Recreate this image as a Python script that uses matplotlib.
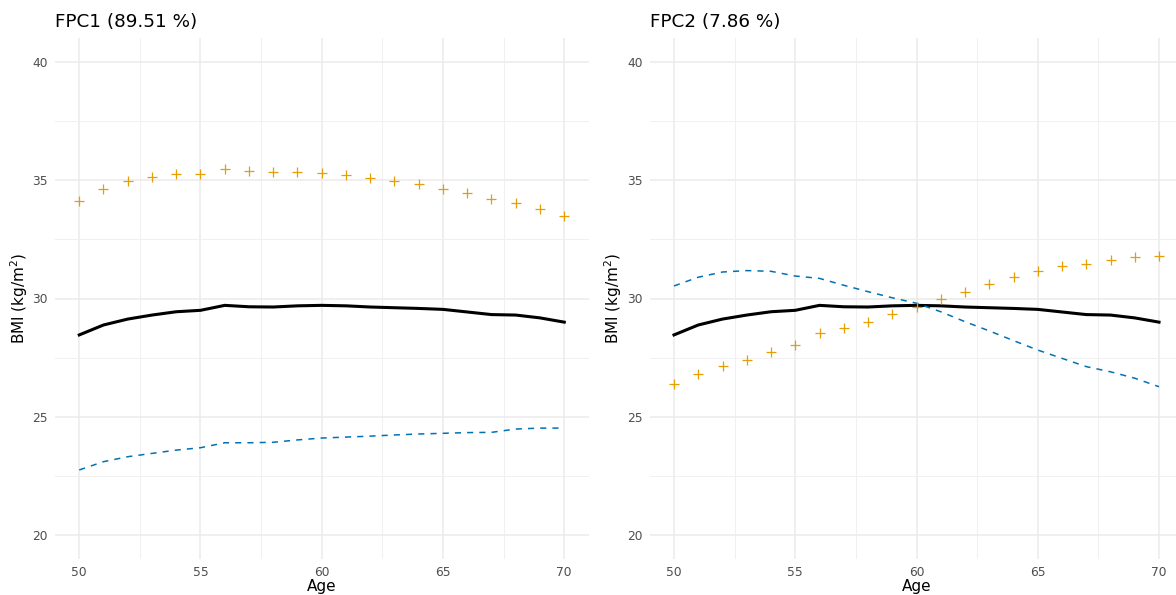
import matplotlib
matplotlib.use("Agg")
import matplotlib.pyplot as plt
from matplotlib.ticker import MultipleLocator

age = list(range(50, 71))
mean_curve = [28.46, 28.88, 29.13, 29.30, 29.44, 29.50, 29.71, 29.65, 29.64, 29.69, 29.71,
              29.69, 29.64, 29.61, 29.58, 29.54, 29.43, 29.32, 29.30, 29.18, 29.00]
fpc1_plus = [34.14, 34.64, 34.97, 35.14, 35.28, 35.28, 35.48, 35.41, 35.34, 35.34, 35.29,
             35.21, 35.08, 34.97, 34.83, 34.63, 34.45, 34.21, 34.05, 33.80, 33.50]
fpc1_minus = [22.75, 23.10, 23.31, 23.45, 23.59, 23.69, 23.90, 23.90, 23.92, 24.02, 24.10,
              24.14, 24.18, 24.23, 24.27, 24.30, 24.33, 24.34, 24.48, 24.52, 24.52]
fpc2_plus = [26.37, 26.82, 27.16, 27.41, 27.74, 28.03, 28.53, 28.77, 29.01, 29.34, 29.65,
             29.97, 30.26, 30.60, 30.90, 31.16, 31.37, 31.47, 31.64, 31.74, 31.80]
fpc2_minus = [30.53, 30.90, 31.12, 31.18, 31.15, 30.95, 30.85, 30.56, 30.29, 30.03, 29.80,
              29.44, 29.02, 28.63, 28.22, 27.82, 27.47, 27.12, 26.90, 26.63, 26.27]
titles = ["FPC1 (89.51 %)", "FPC2 (7.86 %)"]
x_ticks = [50, 55, 60, 65, 70]
y_ticks = [20, 25, 30, 35, 40]

fig = plt.figure(figsize=(11.76, 5.95), dpi=100)
W, H = 1176, 595
px_x = 533.5 / 22
px_y = 520.3 / 22
axes_pos = [(55, 38.35), (649.75, 38.35)]

panels = [(fpc1_plus, fpc1_minus), (fpc2_plus, fpc2_minus)]
for i, ((lx, ty), (plus, minus)) in enumerate(zip(axes_pos, panels)):
    w = 22 * px_x
    h = 22 * px_y
    ax = fig.add_axes([lx / W, (H - ty - h) / H, w / W, h / H])
    ax.set_xlim(49, 71)
    ax.set_ylim(19, 41)
    ax.set_xticks(x_ticks)
    ax.set_yticks(y_ticks)
    ax.xaxis.set_minor_locator(MultipleLocator(2.5))
    ax.yaxis.set_minor_locator(MultipleLocator(2.5))
    ax.grid(True, which="major", color="#EBEBEB", linewidth=1.1)
    ax.grid(True, which="minor", color="#F0F0F0", linewidth=0.7)
    ax.set_axisbelow(True)
    for s in ax.spines.values():
        s.set_visible(False)
    ax.tick_params(which="both", length=0, labelsize=8.8, labelcolor="#4D4D4D", pad=5)
    ax.plot(age, mean_curve, color="black", linewidth=2.2, solid_joinstyle="round")
    ax.plot(age, minus, color="#0072B2", linewidth=1.1, linestyle=(0, (4, 4)))
    ax.plot(age, plus, linestyle="none", marker="+", markersize=7.5, markeredgewidth=0.9,
            color="#E69F00")
    ax.set_xlabel("Age", fontsize=11, labelpad=0)
    ax.set_ylabel("BMI (kg/m$^2$)", fontsize=11, labelpad=2)
    ax.set_title(titles[i], fontsize=13.2, loc="left", pad=8)

fig.savefig("out.png", dpi=100)
